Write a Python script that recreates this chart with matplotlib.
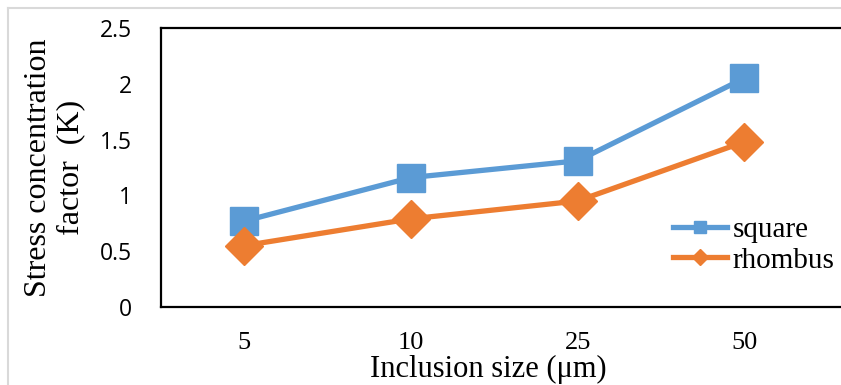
import numpy as np
import matplotlib
matplotlib.use('Agg')
import matplotlib.pyplot as plt
from matplotlib.lines import Line2D

sizes = ['5', '10', '25', '50']
square = [0.77, 1.16, 1.31, 2.05]
rhombus = [0.55, 0.79, 0.95, 1.48]
yticks = [0, 0.5, 1, 1.5, 2, 2.5]
ytick_labels = ['0', '0.5', '1', '1.5', '2', '2.5']

blue = '#5B9BD5'
orange = '#ED7D31'
serif = 'Liberation Serif'

fig = plt.figure(figsize=(8.41, 3.85), dpi=100)
ax = fig.add_axes([161/841, 1 - 307/385, 1 - 161/841, (307 - 28)/385])

x = np.arange(len(sizes))
ax.plot(x, square, color=blue, lw=3.8, marker='s', ms=20, label='square', solid_capstyle='round')
ax.plot(x, rhombus, color=orange, lw=3.8, marker='D', ms=19, label='rhombus', solid_capstyle='round')

ax.set_xlim(-0.5, 3.58)
ax.set_ylim(0, 2.5)
ax.set_yticks(yticks)
ax.set_yticklabels(ytick_labels, fontfamily='Open Sans', fontsize=16.5)
ax.set_xticks(x)
ax.set_xticklabels(sizes, fontfamily=serif, fontsize=19)
ax.tick_params(axis='both', length=0)
ax.tick_params(axis='y', pad=21)
ax.tick_params(axis='x', pad=18)
for s in ['left', 'top', 'bottom']:
    ax.spines[s].set_linewidth(1.6)
    ax.spines[s].set_color('black')
ax.spines['right'].set_visible(False)

ax.set_xlabel('Inclusion size (\u03bcm)', fontfamily=serif, fontsize=22)
ax.xaxis.set_label_coords(0.482, -0.17)
ax.set_ylabel('Stress concentration\nfactor  (K)', fontfamily=serif, fontsize=23,
              linespacing=1.15)
ax.yaxis.set_label_coords(-0.112, 0.5)

handles = [Line2D([], [], color=blue, lw=3.8, marker='s', ms=9),
           Line2D([], [], color=orange, lw=3.8, marker='D', ms=8)]
ax.legend(handles, ['square', 'rhombus'], loc='center left', bbox_to_anchor=(0.753, 0.222),
          frameon=False, prop={'family': serif, 'size': 21}, handlelength=1.85,
          handletextpad=0.2, labelspacing=0.15, borderpad=0, borderaxespad=0)

# gray chart-area border (only top and left visible in crop)
fig.add_artist(Line2D([8/841, 8/841], [0, 1 - 8/385], color='#d9d9d9', lw=1.5))
fig.add_artist(Line2D([8/841, 1], [1 - 8/385, 1 - 8/385], color='#d9d9d9', lw=1.5))

fig.savefig('out.png', dpi=100)
